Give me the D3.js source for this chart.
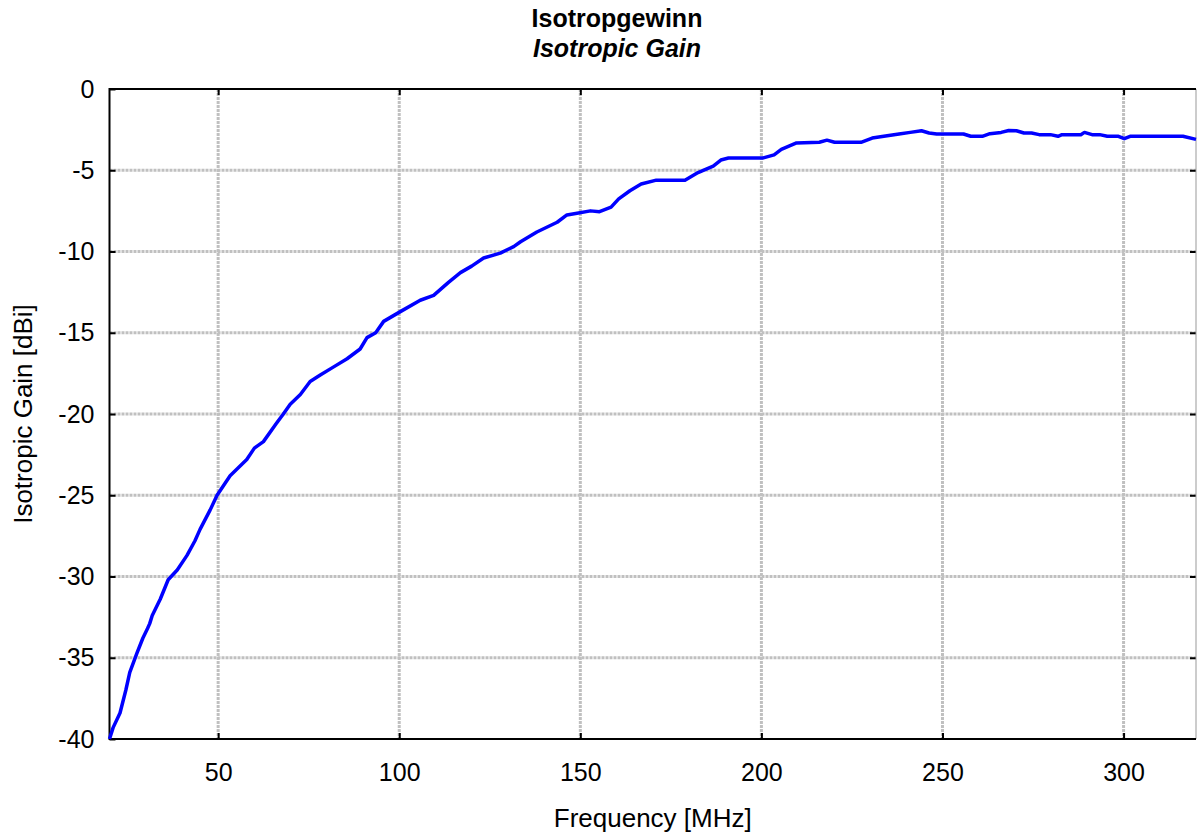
<!DOCTYPE html>
<html>
<head>
<meta charset="utf-8"/>
<title>Isotropgewinn</title>
<script src="https://d3js.org/d3.v7.min.js"></script>
<style>
	body { margin: 0; background: #fff; }
	text { font-family: Arial, "Liberation Sans", sans-serif; fill: #000; }
	.grid line { stroke: #c0c0c0; stroke-width: 3px; stroke-dasharray: 3,1; }
</style>
</head>
<body>
<svg width="1197" height="838"></svg>
<script>
// frequency [MHz] and gain [dBi]
var freq = [20, 21, 22.9, 24.5, 25.6, 27.6, 29.2, 30.5, 31.1, 31.8, 34.0, 36.2, 38.7, 41.4, 43.6,
	45.0, 47.8, 49.7, 53.3, 57.9, 60, 62.5, 66, 68.0, 69.9, 72.7, 75.4, 78.2, 81.9, 85.6, 89.2,
	91.1, 93.5, 95.7, 100.3, 105.8, 109.5, 113.6, 116.9, 120, 123.3, 127.9, 131.6, 133.5, 138.0,
	143.6, 146.3, 149.1, 152.8, 155.3, 158.5, 160.6, 163.7, 166.8, 171.0, 178.9, 182.5, 186.7,
	188.8, 190.9, 200.3, 203.5, 205.5, 209.7, 216.0, 218.1, 220.2, 227.5, 230.6, 233.8, 238.0,
	241.1, 244.2, 246.3, 248.4, 255.8, 257.8, 261.0, 263.1, 266.2, 268.3, 270.4, 272.5, 274.6,
	276.7, 279.8, 281.9, 283.0, 288.2, 289.2, 291.3, 293.4, 295.5, 298.6, 300.2, 301.8, 316.4, 320];
var gain = [-40, -39.3, -38.4, -37.0, -35.9, -34.7, -33.8, -33.2, -32.9, -32.4, -31.4, -30.2, -29.6, -28.7, -27.8,
	-27.1, -25.9, -25.0, -23.8, -22.8, -22.1, -21.7, -20.6, -20.0, -19.4, -18.8, -18.0, -17.6, -17.1, -16.6, -16.0,
	-15.3, -15.0, -14.3, -13.7, -13.0, -12.7, -11.9, -11.3, -10.9, -10.4, -10.1, -9.7, -9.4, -8.8,
	-8.2, -7.75, -7.65, -7.5, -7.55, -7.27, -6.76, -6.26, -5.85, -5.61, -5.61, -5.14, -4.74,
	-4.37, -4.25, -4.25, -4.05, -3.72, -3.32, -3.28, -3.15, -3.28, -3.28, -3.02, -2.91, -2.77,
	-2.67, -2.57, -2.71, -2.77, -2.77, -2.91, -2.91, -2.75, -2.67, -2.55, -2.57, -2.71, -2.71,
	-2.81, -2.81, -2.91, -2.81, -2.81, -2.67, -2.81, -2.81, -2.91, -2.91, -3.06, -2.91, -2.91, -3.1];
var xTicks = [50, 100, 150, 200, 250, 300];
var yTicks = [0, -5, -10, -15, -20, -25, -30, -35, -40];

var svg = d3.select("svg");
var pL = 109.5, pR = 1196, pT = 89, pB = 739;   // plot box

var x = d3.scaleLinear().domain([20, 320]).range([pL, pR]);
var y = d3.scaleLinear().domain([-40, 0]).range([pB, pT]);
var plain = function(d) { return String(d); };  // hyphen minus, like the original

// grid
var grid = svg.append("g").attr("class", "grid");
grid.selectAll(".gx").data(xTicks).enter().append("line")
	.attr("x1", function(d) { return x(d); }).attr("x2", function(d) { return x(d); })
	.attr("y1", pT).attr("y2", pB);
grid.selectAll(".gy").data(yTicks.slice(1, -1)).enter().append("line")
	.attr("x1", pL).attr("x2", pR)
	.attr("y1", function(d) { return y(d); }).attr("y2", function(d) { return y(d); });

// axes (ticks inward on all four sides)
function styleAxis(g) {
	g.select(".domain").remove();
	g.selectAll(".tick line").attr("stroke", "#000").attr("stroke-width", 2);
	g.selectAll(".tick text").attr("font-size", "25px").attr("font-family", "Arial, 'Liberation Sans', sans-serif");
}
svg.append("g").attr("transform", "translate(0," + pB + ")")
	.call(d3.axisBottom(x).tickValues(xTicks).tickSize(-6).tickPadding(24).tickFormat(plain))
	.call(styleAxis);
svg.append("g").attr("transform", "translate(0," + pT + ")")
	.call(d3.axisTop(x).tickValues(xTicks).tickSize(-6).tickFormat(""))
	.call(styleAxis);
svg.append("g").attr("transform", "translate(" + pL + ",0)")
	.call(d3.axisLeft(y).tickValues(yTicks).tickSize(-6).tickPadding(15).tickFormat(plain))
	.call(styleAxis);
svg.append("g").attr("transform", "translate(" + pR + ",0)")
	.call(d3.axisRight(y).tickValues(yTicks.slice(1, -1)).tickSize(-6).tickFormat(""))
	.call(styleAxis);

// frame
svg.append("line").attr("x1", pR).attr("x2", pR).attr("y1", pT).attr("y2", pB)
	.attr("stroke", "#999").attr("stroke-width", 1);
svg.append("path")
	.attr("d", "M" + pR + "," + pT + "H" + pL + "V" + pB + "H" + pR)
	.attr("fill", "none").attr("stroke", "#000").attr("stroke-width", 2);

// curve
var pts = freq.map(function(f, i) { return [f, gain[i]]; });
svg.append("path").datum(pts)
	.attr("fill", "none").attr("stroke", "#0000ff").attr("stroke-width", 3.5)
	.attr("stroke-linejoin", "round")
	.attr("d", d3.line().x(function(d) { return x(d[0]); }).y(function(d) { return y(d[1]); }));

// titles
svg.append("text").attr("x", 617).attr("y", 27).attr("text-anchor", "middle")
	.attr("font-size", "25px").attr("font-weight", "bold").text("Isotropgewinn");
svg.append("text").attr("x", 617).attr("y", 57).attr("text-anchor", "middle")
	.attr("font-size", "25px").attr("font-weight", "bold").attr("font-style", "italic").text("Isotropic Gain");
svg.append("text").attr("x", (pL + pR) / 2).attr("y", 827).attr("text-anchor", "middle")
	.attr("font-size", "26px").text("Frequency [MHz]");
svg.append("text").attr("transform", "translate(32," + ((pT + pB) / 2) + ") rotate(-90)")
	.attr("text-anchor", "middle").attr("font-size", "26px").text("Isotropic Gain [dBi]");
</script>
</body>
</html>
